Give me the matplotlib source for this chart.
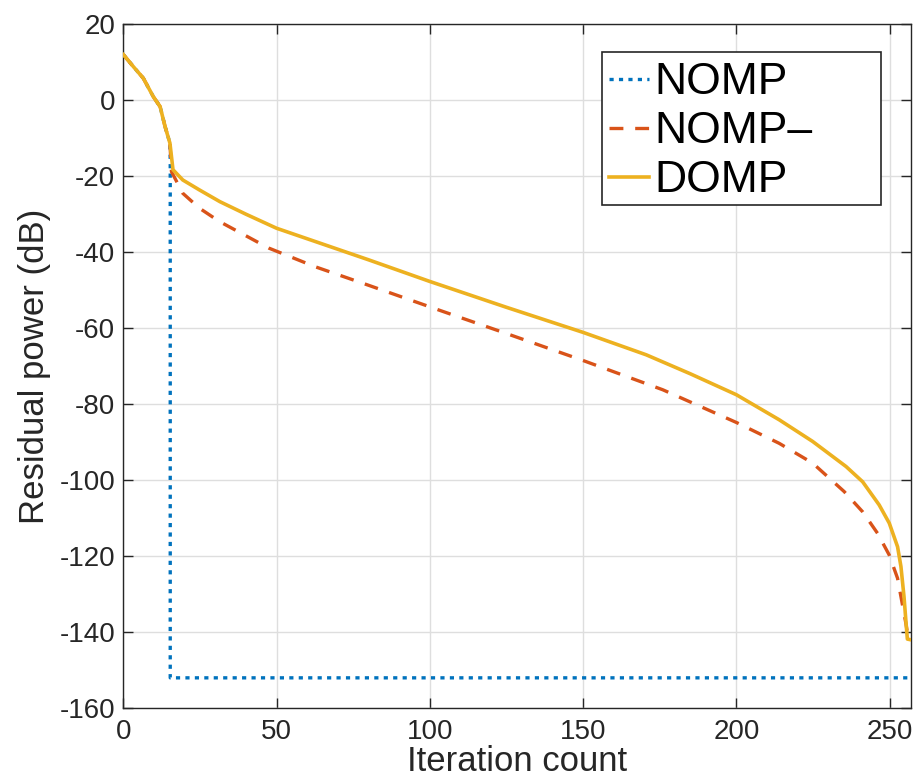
import matplotlib
matplotlib.use("Agg")
import matplotlib.pyplot as plt
from matplotlib.patches import Rectangle

plt.rcParams['font.family'] = ['Liberation Sans', 'DejaVu Sans']
plt.rcParams['axes.unicode_minus'] = False
plt.rcParams['lines.scale_dashes'] = False

# ---- data ----
nomp_x = [0, 3.3, 6.5, 9.8, 12, 13.6, 15.2, 15.3, 15.3, 257]
nomp_y = [12, 8.8, 5.8, 0.9, -1.7, -6.9, -11.3, -16, -152, -152]

nompm_x = [0, 3.3, 6.5, 9.8, 12, 13.6, 15.2, 15.7, 19.4, 24.8, 31.3, 47.4, 62.5,
           80, 104.3, 125, 150, 176, 200, 214, 224.9, 235.2, 241.2, 246.1, 249.9,
           252.6, 254.2, 255.3, 256, 257]
nompm_y = [12, 8.8, 5.8, 0.9, -1.7, -6.9, -11.3, -18.8, -24.5, -28.4, -31.9, -38.9, -43.8,
           -48.7, -55.6, -61.4, -68.5, -76.2, -84.8, -90.3, -95.5, -103, -108.3, -114, -119.7,
           -125.8, -132.8, -137.6, -141, -141]

domp_x = [0, 3.3, 6.5, 9.8, 12, 13.6, 15.2, 16.2, 19.4, 24.8, 31.5, 40, 50, 64.1, 80,
          100, 125, 150, 170.6, 185, 200, 214, 224.9, 235.8, 241.2, 246.6, 249.9, 252.6,
          253.7, 254.7, 255.3, 255.8, 257]
domp_y = [12, 8.8, 5.8, 0.9, -1.7, -6.9, -11.3, -18.3, -21.0, -23.6, -26.7, -30.0, -33.7,
          -37.6, -42.0, -47.7, -54.5, -61.1, -67, -72, -77.5, -84.1, -89.8, -96.4, -100.4,
          -106.5, -111.3, -117.5, -122.7, -130.6, -136.8, -141.8, -142]

labels = ['NOMP', 'NOMP\u2013', 'DOMP']
x_ticks = [0, 50, 100, 150, 200, 250]
y_ticks = [20, 0, -20, -40, -60, -80, -100, -120, -140, -160]

# ---- figure ----
fig = plt.figure(figsize=(9.17, 7.8), dpi=100)
ax = fig.add_axes([0.1345, 0.092, 0.859, 0.877])

axis_col = '#262626'
ax.plot(nomp_x, nomp_y, color='#0072BD', lw=2.4, linestyle=(0, (3.0, 3.8)),
        dash_capstyle='butt', label=labels[0], zorder=3)
ax.plot(nompm_x, nompm_y, color='#D95319', lw=2.4, linestyle=(0, (10, 8.5)),
        dash_capstyle='butt', label=labels[1], zorder=4)
ax.plot(domp_x, domp_y, color='#EDB120', lw=2.6, linestyle='-', label=labels[2], zorder=5)

ax.set_xlim(0, 257)
ax.set_ylim(-160, 20)
ax.set_xticks(x_ticks)
ax.set_yticks(y_ticks)
ax.grid(True, color='#dedede', lw=1.0)
ax.set_axisbelow(True)

for s in ax.spines.values():
    s.set_color(axis_col)
    s.set_linewidth(1.0)
ax.tick_params(direction='in', length=7, width=1.0, colors=axis_col,
               top=True, right=True, labelsize=20)
ax.tick_params(axis='x', pad=8)
ax.tick_params(axis='y', pad=6)

ax.set_xlabel('Iteration count', fontsize=25, color=axis_col, labelpad=0)
ax.set_ylabel('Residual power (dB)', fontsize=25, color=axis_col, labelpad=6)

# legend frame drawn separately to match the wide box
x0, x1, yt, yb = 0.6077, 0.962, 0.9595, 0.7358
ax.add_patch(Rectangle((x0, yb), x1 - x0, yt - yb, transform=ax.transAxes,
                       facecolor='white', edgecolor='#262626', lw=1.2, zorder=6))
leg = ax.legend(loc='upper left', bbox_to_anchor=(x0 + 0.003, yt - 0.009),
                frameon=False, fontsize=32, handlelength=0.9, handletextpad=0.12,
                borderpad=0.1, borderaxespad=0.0, labelspacing=0.18)
leg.set_zorder(7)

fig.savefig('out.png', dpi=100)
